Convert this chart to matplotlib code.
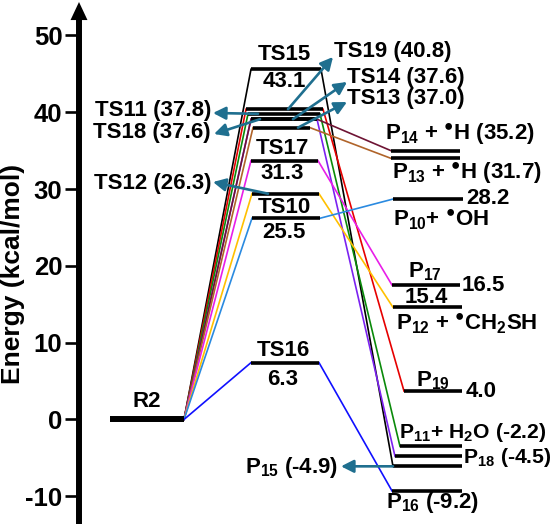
import matplotlib
matplotlib.use('Agg')
import matplotlib.pyplot as plt

plt.rcParams['font.family'] = ['Liberation Sans', 'DejaVu Sans']
plt.rcParams['font.weight'] = 'bold'
plt.rcParams['mathtext.fontset'] = 'custom'
plt.rcParams['mathtext.rm'] = 'Liberation Sans:bold'
plt.rcParams['mathtext.it'] = 'Liberation Sans:bold'
plt.rcParams['mathtext.bf'] = 'Liberation Sans:bold'
plt.rcParams['mathtext.sf'] = 'Liberation Sans:bold'
plt.rcParams['mathtext.default'] = 'rm'

# ---------------- data ----------------
reactant_name = 'R2'
reactant_level = 0.0

ts_names = ['TS15', 'TS19', 'TS11', 'TS18', 'TS14', 'TS13', 'TS17', 'TS12', 'TS10', 'TS16']
ts_values = [43.1, 40.8, 37.8, 37.6, 37.6, 37.0, 31.3, 26.3, 25.5, 6.3]      # printed energies
ts_levels = [45.6, 40.4, 39.8, 39.1, 39.1, 38.0, 33.7, 29.4, 26.2, 7.4]      # drawn level heights

p_names = ['P15', 'P19', 'P11', 'P18', 'P14', 'P13', 'P17', 'P12', 'P10', 'P16']
p_values = [-4.9, 4.0, -2.2, -4.5, 35.2, 31.7, 16.5, 15.4, 28.2, -9.2]       # printed energies
p_levels = [-6.1, 3.7, -3.5, -4.8, 35.0, 34.0, 17.5, 14.6, 28.7, -9.3]       # drawn level heights

path_colors = ['#000000', '#e60000', '#0a8a0a', '#7b22f0', '#6e1434',
               '#b0642a', '#e81ee8', '#ffc000', '#2a8ae0', '#1010ff']

y_ticks = [-10, 0, 10, 20, 30, 40, 50]
y_label = 'Energy (kcal/mol)'

# ---------------- layout ----------------
X_MAX = 555
Y_MIN, Y_MAX = -13.61, 54.62
AXIS_X = 79
r_x = (110, 184)
ts_x = [(251, 321), (246, 323), (248, 320), (251, 317), (251, 317),
        (253, 310), (251, 318), (252, 319), (252, 320), (251, 319)]
p_x = [(393, 462), (404, 462), (400, 462), (395, 462), (391, 460),
       (391, 460), (392, 460), (393, 462), (393, 463), (392, 462)]

arrow_col = '#1f6f8f'
FS = 16.0
FS_SMALL = 15.2
RAD = '$^{●}$'

fig = plt.figure(figsize=(5.55, 5.24), dpi=100)
ax = fig.add_axes([0, 0, 1, 1])
ax.set_xlim(0, X_MAX)
ax.set_ylim(Y_MIN, Y_MAX)
for s in ['top', 'right', 'bottom']:
    ax.spines[s].set_visible(False)
ax.spines['left'].set_position(('data', AXIS_X))
ax.spines['left'].set_linewidth(4.3)
ax.spines['left'].set_bounds(Y_MIN, 52.0)
ax.set_xticks([])
ax.set_yticks(y_ticks)
ax.set_yticklabels([str(t) for t in y_ticks], fontsize=18.5, fontweight='bold')
ax.tick_params(axis='y', direction='out', length=10, width=1.9, pad=2)
ax.patch.set_alpha(0)

# axis arrow head
ax.annotate('', xy=(AXIS_X, 54.36), xytext=(AXIS_X, 50.0),
            arrowprops=dict(arrowstyle='-|>,head_length=13,head_width=6.1',
                            mutation_scale=1, lw=0, color='black',
                            shrinkA=0, shrinkB=0))

ax.text(13, 19.0, y_label, rotation=90, ha='center', va='center',
        fontsize=19, fontweight='bold')

# connectors
for i in range(len(ts_names)):
    c = path_colors[i]
    ax.plot([r_x[1], ts_x[i][0]], [reactant_level, ts_levels[i]], color=c, lw=1.2, zorder=2)
    ax.plot([ts_x[i][1], p_x[i][0]], [ts_levels[i], p_levels[i]], color=c, lw=1.2, zorder=2)

# levels
ax.plot(r_x, [reactant_level] * 2, color='black', lw=4.3, solid_capstyle='butt', zorder=3)
for i in range(len(ts_names)):
    ax.plot(ts_x[i], [ts_levels[i]] * 2, color='black', lw=2.6, solid_capstyle='butt', zorder=3)
    ax.plot(p_x[i], [p_levels[i]] * 2, color='black', lw=2.6, solid_capstyle='butt', zorder=3)

def off_text(s, x, y, dy_pt, ha='center', va='center', dx_pt=0):
    ax.annotate(s, xy=(x, y), xytext=(dx_pt, dy_pt), textcoords='offset points',
                ha=ha, va=va, fontsize=FS, fontweight='bold', zorder=5)

# reactant label
off_text(reactant_name, sum(r_x) / 2, reactant_level, 13.0)

# TS labels above/below
for nm, up, dn in [('TS15', 10.8, -8.5), ('TS17', 8.6, -9.4), ('TS10', 7.9, -10.0), ('TS16', 8.6, -12.0)]:
    i = ts_names.index(nm)
    cx = sum(ts_x[i]) / 2 - 2
    off_text(nm, cx, ts_levels[i], up)
    off_text(f'{ts_values[i]:.1f}', cx, ts_levels[i], dn)

def arrow_label(s, tail, head, tx, ty, ha):
    ax.annotate('', xy=head, xytext=tail,
                arrowprops=dict(arrowstyle='-|>,head_length=7.5,head_width=3.8',
                                mutation_scale=1, lw=1.9, color=arrow_col,
                                shrinkA=0, shrinkB=0), zorder=6)
    ax.text(tx, ty, s, ha=ha, va='center', fontsize=FS, fontweight='bold', zorder=6)

# TS arrow labels
arrow_specs = [  # name, tail x, head (x, y), text (x, y), ha
    ('TS19', 288, (333, 47.2), (334, 47.85), 'left'),
    ('TS14', 293, (347, 43.95), (347, 44.47), 'left'),
    ('TS13', 298, (347, 41.34), (347, 41.73), 'left'),
    ('TS11', 258, (213, 39.91), (211, 40.17), 'right'),
    ('TS18', 260, (214, 37.17), (211, 37.43), 'right'),
    ('TS12', 268, (213, 30.92), (211, 30.79), 'right'),
]
for nm, tx0, head, tpos, ha in arrow_specs:
    i = ts_names.index(nm)
    arrow_label(f'{nm} ({ts_values[i]:.1f})', (tx0, ts_levels[i]), head, tpos[0], tpos[1], ha)

# P15 arrow label
i15 = p_names.index('P15')
arrow_label(f'P$_{{15}}$ ({p_values[i15]:.1f})', (p_x[i15][0], p_levels[i15]),
            (341, p_levels[i15]), 338, p_levels[i15] - 0.1, 'right')

def p_text(name, s, x, dy_pt, va='baseline', ha='left', fs=FS):
    i = p_names.index(name)
    ax.annotate(s, xy=(x, p_levels[i]), xytext=(0, dy_pt), textcoords='offset points',
                ha=ha, va=va, fontsize=fs, fontweight='bold', zorder=5)

def pv(name):
    return f'{p_values[p_names.index(name)]:.1f}'

p_text('P14', f'P$_{{14}}$ + {RAD}H ({pv("P14")})', 385, 7.9)
p_text('P13', f'P$_{{13}}$ + {RAD}H ({pv("P13")})', 392, -15.0)
p_text('P10', pv('P10'), 466, 0.5, va='center')
p_text('P10', f'P$_{{10}}$+ {RAD}OH', 393, -19.4)
p_text('P17', 'P$_{17}$', 408, 5.8)
p_text('P17', pv('P17'), 462, 0, va='center')
p_text('P12', pv('P12'), 426, 7.2, va='center', ha='center')
p_text('P12', f'P$_{{12}}$ + {RAD}CH$_2$SH', 396, -16.6)
p_text('P19', 'P$_{19}$', 416, 3.6)
p_text('P19', pv('P19'), 466, 0, va='center')
p_text('P11', f'P$_{{11}}$+ H$_2$O ({pv("P11")})', 399, 5.8, fs=FS_SMALL)
p_text('P18', f'P$_{{18}}$ ({pv("P18")})', 463, -5.0, fs=FS_SMALL)
p_text('P16', f'P$_{{16}}$ ({pv("P16")})', 386, -12.2)

fig.savefig('out.png', dpi=100)
